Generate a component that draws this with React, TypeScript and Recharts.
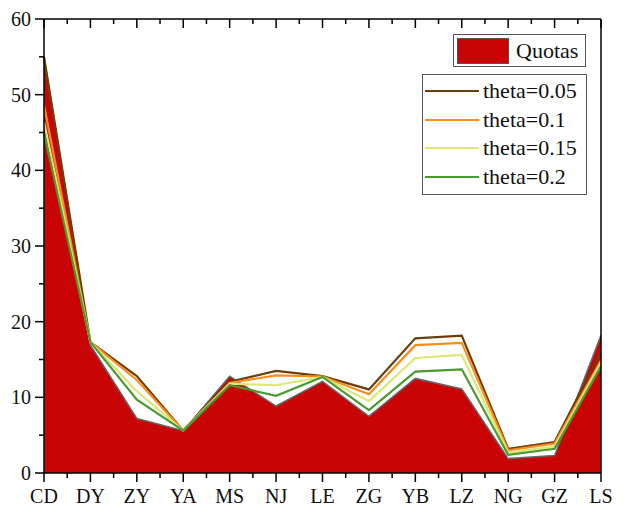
import React from 'react';
import { ComposedChart, Area, Line, XAxis, YAxis } from 'recharts';

const categories = ['CD', 'DY', 'ZY', 'YA', 'MS', 'NJ', 'LE', 'ZG', 'YB', 'LZ', 'NG', 'GZ', 'LS'];
const quotas = [55, 16.9, 7.2, 5.6, 12.8, 8.85, 12.1, 7.5, 12.5, 11.1, 1.9, 2.3, 18.2];
const theta005 = [55, 17.3, 12.8, 5.6, 12.05, 13.5, 12.8, 11.05, 17.8, 18.15, 3.2, 4.1, 16.0];
const theta01 = [48.6, 17.3, 12.3, 5.6, 11.9, 12.9, 12.75, 10.4, 16.9, 17.2, 3.0, 3.9, 14.9];
const theta015 = [46.4, 17.3, 10.8, 5.6, 11.8, 11.6, 12.7, 9.5, 15.2, 15.6, 2.7, 3.5, 14.6];
const theta02 = [44.9, 17.3, 9.7, 5.6, 11.6, 10.2, 12.7, 8.3, 13.4, 13.7, 2.4, 3.2, 14.1];

const lineNames = ['theta=0.05', 'theta=0.1', 'theta=0.15', 'theta=0.2'];
const lineKeys = ['t005', 't01', 't015', 't02'];
const lineColors = ['#6B3F0B', '#FF8C1A', '#DCE775', '#4A9A30'];
const areaName = 'Quotas';
const areaColor = '#C80404';

const yTicks = [0, 5, 10, 15, 20, 25, 30, 35, 40, 45, 50, 55, 60];
const xTicks = [0, 0.5, 1, 1.5, 2, 2.5, 3, 3.5, 4, 4.5, 5, 5.5, 6, 6.5, 7, 7.5, 8, 8.5, 9, 9.5, 10, 10.5, 11, 11.5, 12];

const data = categories.map((c, i) => ({
  x: i,
  name: c,
  quotas: quotas[i],
  t005: theta005[i],
  t01: theta01[i],
  t015: theta015[i],
  t02: theta02[i],
}));

const FONT = 'Liberation Serif, Tinos, Times New Roman, Times, DejaVu Serif, serif';
const TICK_FONT = 20;

const LeftTick = (props: any) => {
  const { x, y, payload } = props;
  const major = payload.value % 10 === 0;
  return (
    <g>
      <line x1={x - (major ? 9 : 5)} x2={x} y1={y} y2={y} stroke="#000" strokeWidth={1.5} />
      {major && (
        <text x={x - 13} y={y} dy="0.35em" textAnchor="end" style={{ fontFamily: FONT }} fontSize={TICK_FONT} fill="#111">
          {payload.value}
        </text>
      )}
    </g>
  );
};

const RightTick = (props: any) => {
  const { x, y, payload } = props;
  const major = payload.value % 10 === 0;
  return (
    <g>
      <line x1={x} x2={x + (major ? 9 : 5)} y1={y} y2={y} stroke="#000" strokeWidth={1.5} />
      {major && (
        <text x={x + 11} y={y} dy="0.35em" textAnchor="start" style={{ fontFamily: FONT }} fontSize={TICK_FONT} fill="#111">
          {payload.value}
        </text>
      )}
    </g>
  );
};

const BottomTick = (props: any) => {
  const { x, y, payload } = props;
  const major = Number.isInteger(payload.value);
  return (
    <g>
      <line x1={x} x2={x} y1={y} y2={y + (major ? 9 : 5)} stroke="#000" strokeWidth={1.5} />
      {major && (
        <text x={x} y={y + 30} textAnchor="middle" style={{ fontFamily: FONT }} fontSize={TICK_FONT} fill="#111">
          {categories[payload.value]}
        </text>
      )}
    </g>
  );
};

const TopTick = (props: any) => {
  const { x, y, payload } = props;
  const major = Number.isInteger(payload.value);
  return (
    <g>
      <line x1={x} x2={x} y1={y} y2={y + (major ? 9 : 5)} stroke="#000" strokeWidth={1.5} />
    </g>
  );
};

const LegendOverlay = () => (
  <>
    <div
      style={{
        position: 'absolute',
        left: 453,
        top: 34,
        width: 133,
        height: 33,
        border: '1px solid #555',
        background: '#fff',
        boxSizing: 'border-box',
      }}
    >
      <div
        style={{
          position: 'absolute',
          left: 3,
          top: 3,
          width: 52,
          height: 26,
          background: areaColor,
          border: '1px solid #555',
          boxSizing: 'border-box',
        }}
      />
      <div
        style={{
          position: 'absolute',
          left: 62,
          top: 0,
          lineHeight: '31px',
          fontFamily: FONT,
          fontSize: 22,
          color: '#111',
          whiteSpace: 'nowrap',
        }}
      >
        {areaName}
      </div>
    </div>
    <div
      style={{
        position: 'absolute',
        left: 422,
        top: 74,
        width: 165,
        height: 121,
        border: '1px solid #555',
        background: '#fff',
        boxSizing: 'border-box',
      }}
    >
      {lineNames.map((n, i) => (
        <div key={n}>
          <div
            style={{
              position: 'absolute',
              left: 2,
              top: 16 + i * 28.7 - 1,
              width: 54,
              height: 2,
              background: lineColors[i],
            }}
          />
          <div
            style={{
              position: 'absolute',
              left: 60,
              top: 16 + i * 28.7 - 14,
              lineHeight: '28px',
              fontFamily: FONT,
              fontSize: 22,
              color: '#111',
              whiteSpace: 'nowrap',
            }}
          >
            {n}
          </div>
        </div>
      ))}
    </div>
  </>
);

export default function App() {
  return (
    <div style={{ position: 'absolute', left: 0, top: 0, width: 631, height: 507, background: '#fff' }}>
      <ComposedChart width={631} height={507} data={data} margin={{ top: 19, right: 0, bottom: 0, left: 0 }}>
        <XAxis
          xAxisId="bottom"
          dataKey="x"
          type="number"
          domain={[0, 12]}
          ticks={xTicks}
          interval={0}
          orientation="bottom"
          height={34}
          tickSize={0}
          tickMargin={0}
          tickLine={false}
          axisLine={{ stroke: '#000', strokeWidth: 1.5 }}
          tick={<BottomTick />}
        />
        <XAxis
          xAxisId="top"
          dataKey="x"
          type="number"
          domain={[0, 12]}
          ticks={xTicks}
          interval={0}
          orientation="top"
          mirror
          height={10}
          tickSize={0}
          tickMargin={0}
          tickLine={false}
          axisLine={{ stroke: '#000', strokeWidth: 1.5 }}
          tick={<TopTick />}
        />
        <YAxis
          yAxisId="left"
          orientation="left"
          type="number"
          domain={[0, 60]}
          ticks={yTicks}
          interval={0}
          width={44}
          tickSize={0}
          tickMargin={0}
          tickLine={false}
          axisLine={{ stroke: '#000', strokeWidth: 1.5 }}
          tick={<LeftTick />}
        />
        <YAxis
          yAxisId="right"
          orientation="right"
          type="number"
          domain={[0, 60]}
          ticks={yTicks}
          interval={0}
          width={30}
          tickSize={0}
          tickMargin={0}
          tickLine={false}
          axisLine={{ stroke: '#000', strokeWidth: 1.5 }}
          tick={<RightTick />}
        />
        <Area
          xAxisId="bottom"
          yAxisId="left"
          type="linear"
          dataKey="quotas"
          name={areaName}
          fill={areaColor}
          fillOpacity={1}
          stroke="#666"
          strokeWidth={1.5}
          isAnimationActive={false}
          dot={false}
          activeDot={false}
        />
        {lineKeys.map((k, i) => (
          <Line
            key={k}
            xAxisId="bottom"
            yAxisId="left"
            type="linear"
            dataKey={k}
            name={lineNames[i]}
            stroke={lineColors[i]}
            strokeWidth={2.2}
            dot={false}
            activeDot={false}
            isAnimationActive={false}
          />
        ))}
      </ComposedChart>
      <LegendOverlay />
    </div>
  );
}
